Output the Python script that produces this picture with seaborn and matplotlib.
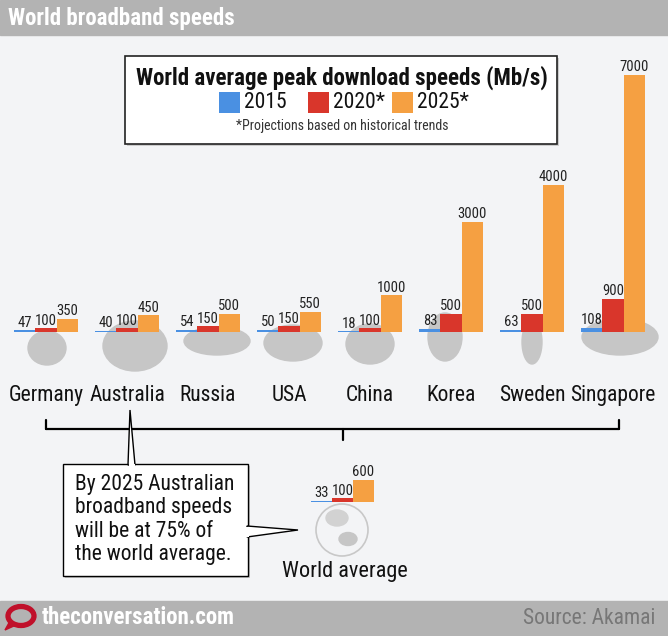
import matplotlib
matplotlib.use("Agg")
import matplotlib.pyplot as plt
from matplotlib import font_manager
from matplotlib.patches import Rectangle, Ellipse, Polygon
import seaborn as sns
import pandas as pd

countries = ["Germany", "Australia", "Russia", "USA", "China", "Korea", "Sweden", "Singapore"]
years = ["2015", "2020*", "2025*"]
speed_2015 = [47, 40, 54, 50, 18, 83, 63, 108]
speed_2020 = [100, 100, 150, 150, 100, 500, 500, 900]
speed_2025 = [350, 450, 500, 550, 1000, 3000, 4000, 7000]
world_avg = [33, 100, 600]
colors = ["#4a90e2", "#d9362b", "#f5a042"]

sns.set_theme(style="white")
names = {f.name for f in font_manager.fontManager.ttflist}
narrow = None
for cand in ["Roboto Condensed", "Liberation Sans Narrow", "Open Sans Condensed", "DejaVu Sans"]:
    if cand in names:
        narrow = cand
        break
plt.rcParams["font.family"] = [narrow, "DejaVu Sans"]

W, H = 668, 636
BG = "#f3f4f6"
fig = plt.figure(figsize=(W / 100, H / 100), dpi=100, facecolor=BG)

def fx(x):
    return x / W

def fy(y):
    return 1 - y / H

def rect(x0, y0, x1, y1):
    return [fx(x0), fy(y1), fx(x1) - fx(x0), fy(y0) - fy(y1)]

TF = fig.transFigure

# header and footer
fig.patches.append(Rectangle((0, fy(35)), 1, 35 / H, transform=TF, color="#b3b3b3", zorder=0))
fig.text(fx(8), fy(19), "World broadband speeds", color="white", fontsize=16.5, fontweight="bold",
         va="center", ha="left")
fig.patches.append(Rectangle((0, 0), 1, 35 / H, transform=TF, color="#b3b3b3", zorder=0))
fig.text(fx(42), fy(618), "theconversation.com", color="white", fontsize=16.5, fontweight="bold",
         va="center", ha="left")
fig.text(fx(655), fy(618), "Source: Akamai", color="#777777", fontsize=15.5, va="center", ha="right")
fig.patches.append(Ellipse((fx(21), fy(616)), 26 / W, 19 / H, transform=TF, fill=False,
                           edgecolor="#c0102a", linewidth=3.8, zorder=2))
fig.patches.append(Polygon([[fx(10), fy(621)], [fx(5), fy(630)], [fx(16), fy(625)]], closed=True,
                           transform=TF, color="#c0102a", zorder=2))

# country silhouettes (approximate decorative blobs)
blobs = [(47, 348, 38, 34), (135, 346, 64, 50), (217, 341, 66, 28), (293, 343, 58, 36),
         (370, 344, 48, 40), (445, 337, 34, 48), (532, 342, 20, 44), (620, 337, 76, 36)]
for cx, cy, w, h in blobs:
    fig.patches.append(Ellipse((fx(cx), fy(cy)), w / W, h / H, transform=TF,
                               color="#c6c6c6", zorder=0.5))

# main bars
df = pd.DataFrame({
    "country": countries * 3,
    "year": [years[0]] * 8 + [years[1]] * 8 + [years[2]] * 8,
    "speed": speed_2015 + speed_2020 + speed_2025,
})
ax = fig.add_axes(rect(5.5, 75, 653.5, 332))
ax.set_zorder(3)
ax.set_facecolor("none")
sns.barplot(data=df, x="country", y="speed", hue="year", palette=colors, width=0.78,
            saturation=1, legend=False, ax=ax, linewidth=0, edgecolor="none")
ax.set_ylim(0, 7000)
ax.set_xlim(-0.5, 7.5)
ax.axis("off")
for cont in ax.containers:
    ax.bar_label(cont, labels=[f"{int(v)}" for v in cont.datavalues], padding=0.5,
                 fontsize=10.5, color="#222222")
for i, c in enumerate(countries):
    ax.text(i, -1720, c, ha="center", va="center", fontsize=15.5, color="#111111")

# bracket
br = dict(color="black", linewidth=1.6, transform=TF)
fig.lines.append(plt.Line2D([fx(46), fx(619)], [fy(429), fy(429)], **br))
fig.lines.append(plt.Line2D([fx(46), fx(46)], [fy(420), fy(429)], **br))
fig.lines.append(plt.Line2D([fx(619), fx(619)], [fy(420), fy(429)], **br))
fig.lines.append(plt.Line2D([fx(343), fx(343)], [fy(429), fy(440)], **br))

# callout box
fig.patches.append(Rectangle((fx(65), fy(578)), (250 - 65) / W, (578 - 466) / H, transform=TF,
                             facecolor="#c4c4c4", edgecolor="none", zorder=1))
fig.patches.append(Rectangle((fx(63), fy(576)), (248 - 63) / W, (576 - 464) / H, transform=TF,
                             facecolor="white", edgecolor="black", linewidth=1, zorder=2))
fig.patches.append(Polygon([[fx(128), fy(465)], [fx(130), fy(410)], [fx(135), fy(465)]], closed=True,
                           transform=TF, facecolor="white", edgecolor="black", linewidth=1, zorder=3))
fig.patches.append(Polygon([[fx(247), fy(526)], [fx(298), fy(530)], [fx(247), fy(537)]], closed=True,
                           transform=TF, facecolor="white", edgecolor="black", linewidth=1, zorder=3))
fig.patches.append(Rectangle((fx(128.5), fy(466.5)), 6 / W, 3 / H, transform=TF,
                             facecolor="white", edgecolor="none", zorder=4))
fig.patches.append(Rectangle((fx(246), fy(536.5)), 3 / W, 10 / H, transform=TF,
                             facecolor="white", edgecolor="none", zorder=4))
fig.text(fx(75), fy(519.5), "By 2025 Australian\nbroadband speeds\nwill be at 75% of\nthe world average.",
         fontsize=15.5, va="center", ha="left", linespacing=1.16, color="#111111", zorder=5)

# globe
fig.patches.append(Ellipse((fx(342), fy(530)), 52 / W, 52 / H, transform=TF,
                           facecolor="#f3f4f6", edgecolor="#c8c8c8", linewidth=1.2, zorder=1))
fig.patches.append(Ellipse((fx(348), fy(539)), 18 / W, 13 / H, transform=TF,
                           color="#c6c6c6", zorder=1.5))
fig.patches.append(Ellipse((fx(337), fy(518)), 22 / W, 16 / H, transform=TF,
                           color="#d2d2d2", zorder=1.5))
fig.text(fx(345), fy(572), "World average", fontsize=16, ha="center", va="center", color="#111111")

# world average bars
wdf = pd.DataFrame({"group": ["World"] * 3, "year": years, "speed": world_avg})
axw = fig.add_axes(rect(302, 502 - 257 / 7000 * 1000, 383, 502))
axw.set_zorder(3)
axw.set_facecolor("none")
sns.barplot(data=wdf, x="group", y="speed", hue="year", palette=colors, width=0.78,
            saturation=1, legend=False, ax=axw, linewidth=0, edgecolor="none")
axw.set_ylim(0, 1000)
axw.set_xlim(-0.5, 0.5)
axw.axis("off")
for cont in axw.containers:
    axw.bar_label(cont, labels=[f"{int(v)}" for v in cont.datavalues], padding=0.5,
                  fontsize=10.5, color="#222222")

# legend box
fig.patches.append(Rectangle((fx(127), fy(146)), (559 - 127) / W, (146 - 58) / H, transform=TF,
                             facecolor="#cccccc", edgecolor="none", zorder=1))
fig.patches.append(Rectangle((fx(125), fy(144)), (557 - 125) / W, (144 - 56) / H, transform=TF,
                             facecolor="white", edgecolor="#222222", linewidth=1.2, zorder=2))
fig.text(fx(342), fy(78), "World average peak download speeds (Mb/s)", fontsize=16.5, fontweight="bold",
         ha="center", va="center", zorder=3, color="#111111")
leg_x = [219, 308, 392]
for lx, col, lab in zip(leg_x, colors, years):
    fig.patches.append(Rectangle((fx(lx), fy(113)), 21 / W, 21 / H, transform=TF,
                                 facecolor=col, edgecolor="none", zorder=3))
    fig.text(fx(lx + 25), fy(103), lab, fontsize=15.5, ha="left", va="center", zorder=3, color="#111111")
fig.text(fx(342), fy(126), "*Projections based on historical trends", fontsize=10,
         ha="center", va="center", zorder=3, color="#333333")

fig.savefig("out.png", dpi=100, facecolor=BG)
